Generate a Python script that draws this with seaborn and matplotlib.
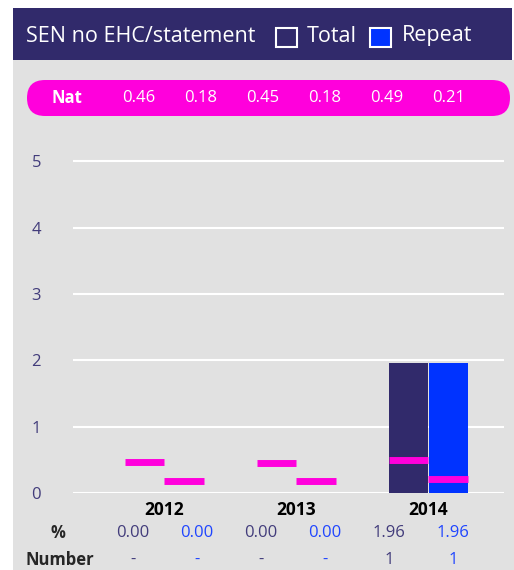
import matplotlib
matplotlib.use('Agg')
import matplotlib.pyplot as plt
import matplotlib.patches as mpatches
import matplotlib.transforms as mtransforms
import seaborn as sns
import pandas as pd

# data
years = ['2012', '2013', '2014']
series = ['Total', 'Repeat']
total_pct = [0.00, 0.00, 1.96]
repeat_pct = [0.00, 0.00, 1.96]
nat_total = [0.46, 0.45, 0.49]
nat_repeat = [0.18, 0.18, 0.21]
total_num = ['-', '-', '1']
repeat_num = ['-', '-', '1']
yticks = [0, 1, 2, 3, 4, 5]
title = 'SEN no EHC/statement'

navy = '#312a6b'
blue = '#0033ff'
pink = '#ff00dc'
grey = '#e1e1e1'
label_col = '#423c7b'
blue_txt = '#1f45ff'

sns.set_style('white')
plt.rcParams['font.family'] = ['Open Sans', 'DejaVu Sans']

df = pd.DataFrame({
    'year': years * 2,
    'series': [series[0]] * 3 + [series[1]] * 3,
    'pct': total_pct + repeat_pct,
})

W, H = 514, 570
fig = plt.figure(figsize=(W / 100, H / 100), dpi=100)
fig.patch.set_facecolor('white')
px = mtransforms.IdentityTransform()  # pixel coords, origin bottom-left

# grey panel + header band
fig.add_artist(mpatches.Rectangle((13, 0), W - 13, H - 60, transform=px,
                                  facecolor=grey, edgecolor='none', zorder=0))
fig.add_artist(mpatches.Rectangle((13, H - 60), 499, 52, transform=px,
                                  facecolor=navy, edgecolor='none', zorder=1))
fig.text(26 / W, 1 - 36 / H, title, color='white', fontsize=15.5, ha='left', va='center')
for (bx, tx, name, col) in [(276, 307, series[0], navy), (370, 402, series[1], blue)]:
    fig.add_artist(mpatches.Rectangle((bx, H - 47), 21, 19, transform=px,
                                      facecolor=col, edgecolor='white', lw=1.5, zorder=2))
    fig.text(tx / W, 1 - 36 / H, name, color='white', fontsize=15.5, ha='left', va='center')

# national pill
fig.add_artist(mpatches.FancyBboxPatch((27, H - 116), 483, 36, transform=px,
                                       boxstyle='round,pad=0,rounding_size=18',
                                       facecolor=pink, edgecolor='none', zorder=1))
fig.text(67 / W, 1 - 98 / H, 'Nat', color='white', fontsize=12, fontweight='bold',
         ha='center', va='center')
nat_vals = [v for pair in zip(nat_total, nat_repeat) for v in pair]
for k, v in enumerate(nat_vals):
    fig.text((138.7 + 61.9 * k) / W, 1 - 98 / H, f'{v:.2f}', color='white', fontsize=12,
             ha='center', va='center')

# main chart
ax = fig.add_axes([73 / W, (H - 493) / H, (504 - 73) / W, 345 / H])
ax.set_facecolor('none')
sns.barplot(data=df, x='year', y='pct', hue='series', palette={series[0]: navy, series[1]: blue},
            width=0.6, gap=0.03, saturation=1, linewidth=0, ax=ax, legend=False, zorder=3)
for i, (t, r) in enumerate(zip(nat_total, nat_repeat)):
    ax.plot([i - 0.3, i], [t, t], color=pink, lw=5, solid_capstyle='butt', zorder=4)
    ax.plot([i, i + 0.3], [r, r], color=pink, lw=5, solid_capstyle='butt', zorder=4)

ax.set_xlim(-0.693, 2.572)
ax.set_ylim(0, 5.2)
ax.set_yticks(yticks)
ax.set_axisbelow(True)
ax.yaxis.grid(True, color='white', lw=1.5)
ax.xaxis.grid(False)
for s in ax.spines.values():
    s.set_visible(False)
ax.set_xlabel('')
ax.set_ylabel('')
ax.tick_params(axis='y', length=0, pad=23, labelsize=12, labelcolor=label_col)
ax.tick_params(axis='x', length=0, pad=6, labelsize=12.5, labelcolor='black')
for lbl in ax.get_xticklabels():
    lbl.set_fontweight('bold')

# table rows under chart
fig.text(58 / W, 1 - 533 / H, '%', fontsize=12, fontweight='bold', ha='center', va='center')
fig.text(60 / W, 1 - 560 / H, 'Number', fontsize=12, fontweight='bold', ha='center', va='center')
pct_vals = [v for pair in zip(total_pct, repeat_pct) for v in pair]
num_vals = [v for pair in zip(total_num, repeat_num) for v in pair]
for k in range(6):
    col = label_col if k % 2 == 0 else blue_txt
    x = (133 + 64 * k) / W
    fig.text(x, 1 - 533 / H, f'{pct_vals[k]:.2f}', color=col, fontsize=12, ha='center', va='center')
    fig.text(x, 1 - 560 / H, num_vals[k], color=col, fontsize=12, ha='center', va='center')

fig.savefig('out.png', dpi=100)
